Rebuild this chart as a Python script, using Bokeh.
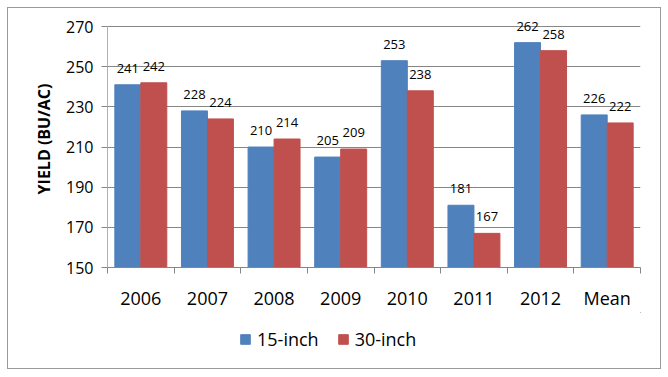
from bokeh.plotting import figure
from bokeh.models import FixedTicker, Range1d, Legend, LegendItem, ColumnDataSource
from bokeh.layouts import column
from bokeh.core.properties import value
from bokeh.embed import file_html
from bokeh.resources import INLINE

categories = ["2006", "2007", "2008", "2009", "2010", "2011", "2012", "Mean"]
series_names = ["15-inch", "30-inch"]
yield_15 = [241, 228, 210, 205, 253, 181, 262, 226]
yield_30 = [242, 224, 214, 209, 238, 167, 258, 222]
y_ticks = [150, 170, 190, 210, 230, 250, 270]

BLUE = "#4F81BD"
RED = "#C0504D"
FONT = "Open Sans"

n = len(categories)
centers = [i + 0.5 for i in range(n)]
bw = 0.39
x15 = [c - bw / 2 for c in centers]
x30 = [c + bw / 2 for c in centers]

p = figure(width=652, height=304, output_backend="svg", toolbar_location=None,
           x_range=Range1d(0, n), y_range=Range1d(150, 278),
           min_border_left=99, min_border_right=20, min_border_top=2, min_border_bottom=45)
p.outline_line_color = None

src15 = ColumnDataSource(dict(x=x15, top=yield_15, lab=[str(v) for v in yield_15]))
src30 = ColumnDataSource(dict(x=x30, top=yield_30, lab=[str(v) for v in yield_30]))

p.vbar(x="x", top="top", bottom=150, width=bw, source=src15, fill_color=BLUE, line_color=BLUE)
p.vbar(x="x", top="top", bottom=150, width=bw, source=src30, fill_color=RED, line_color=RED)

for src in (src15, src30):
    p.text(x="x", y="top", text="lab", source=src, text_align="center", text_baseline="bottom",
           y_offset=-12, text_font_size="13px", text_color="black", text_font=value(FONT))

# axes
p.xaxis.ticker = FixedTicker(ticks=centers, minor_ticks=list(range(n + 1)))
p.xaxis.major_label_overrides = {c: cat for c, cat in zip(centers, categories)}
p.xaxis.major_tick_out = 0
p.xaxis.major_tick_in = 0
p.xaxis.minor_tick_out = 6
p.xaxis.minor_tick_in = 0
p.xaxis.minor_tick_line_color = "#868686"
p.xaxis.axis_line_color = "#868686"
p.xaxis.major_label_text_font = FONT
p.xaxis.major_label_text_font_size = "18px"
p.xaxis.major_label_standoff = 12
p.xaxis.major_label_text_color = "black"

p.yaxis.ticker = FixedTicker(ticks=y_ticks)
p.yaxis.bounds = (150, 270)
p.yaxis.major_tick_out = 6
p.yaxis.major_tick_in = 0
p.yaxis.minor_tick_line_color = None
p.yaxis.major_tick_line_color = "#868686"
p.yaxis.axis_line_color = "#b0b0b0"
p.yaxis.major_label_text_font = FONT
p.yaxis.major_label_text_font_size = "16px"
p.yaxis.major_label_standoff = 8
p.yaxis.major_label_text_color = "black"
p.yaxis.axis_label = "YIELD (BU/AC)"
p.yaxis.axis_label_text_font = FONT
p.yaxis.axis_label_text_font_style = "bold"
p.yaxis.axis_label_text_font_size = "16px"
p.yaxis.axis_label_standoff = 8
p.yaxis.axis_label_text_color = "black"

p.xgrid.grid_line_color = None
p.ygrid.ticker = FixedTicker(ticks=y_ticks)
p.ygrid.grid_line_color = "#868686"

# legend strip (its frame is aligned with the main frame by the column layout)
q = figure(width=652, height=56, output_backend="svg", toolbar_location=None,
           x_range=Range1d(0, 1), y_range=Range1d(0, 1), min_border=0,
           x_axis_type=None, y_axis_type=None)
q.grid.visible = False
q.outline_line_color = None
e1 = q.vbar(x=[5], top=[5], bottom=[4], width=0.1, fill_color=BLUE, line_color=BLUE)
e2 = q.vbar(x=[5], top=[5], bottom=[4], width=0.1, fill_color=RED, line_color=RED)
legend = Legend(items=[LegendItem(label=series_names[0], renderers=[e1]),
                       LegendItem(label=series_names[1], renderers=[e2])],
                orientation="horizontal", location=(132, 17),
                label_text_font=FONT, label_text_font_size="18px", label_text_color="black",
                glyph_width=12, glyph_height=12, spacing=18, label_standoff=6,
                border_line_color=None, background_fill_alpha=0, padding=4, margin=0)
q.add_layout(legend, "center")

layout = column(p, q, spacing=0,
                styles={"border": "1px solid #9a9a9a", "margin-left": "7px", "margin-top": "7px"})

open("out.html", "w").write(file_html(layout, INLINE))
